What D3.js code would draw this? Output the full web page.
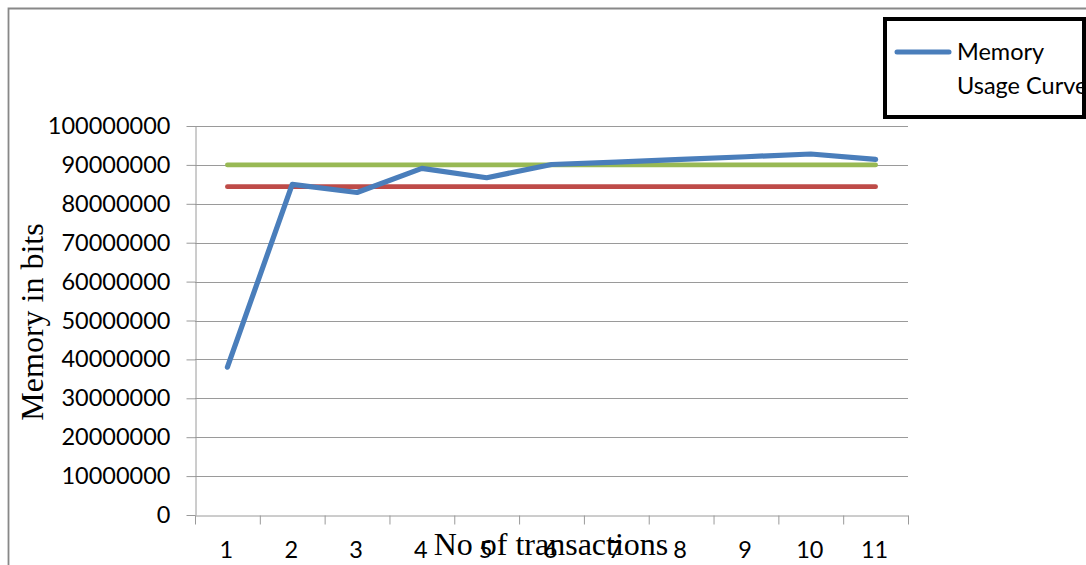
<!DOCTYPE html>
<html>
<head>
<meta charset="utf-8">
<script src="https://cdn.jsdelivr.net/npm/d3@7"></script>
<style>
  html, body { margin: 0; padding: 0; background: #fff; }
  svg { display: block; }
</style>
</head>
<body>
<svg id="chart" width="1086" height="565"></svg>
<script>
// ---- data ----
const categories = ["1","2","3","4","5","6","7","8","9","10","11"];
const memoryUsage = [38000000, 85000000, 82900000, 89100000, 86700000, 90100000, 90700000, 91400000, 92100000, 92800000, 91400000];
const upperLimit = [90000000, 90000000, 90000000, 90000000, 90000000, 90000000, 90000000, 90000000, 90000000, 90000000, 90000000];
const lowerLimit = [84400000, 84400000, 84400000, 84400000, 84400000, 84400000, 84400000, 84400000, 84400000, 84400000, 84400000];
const yTicks = [0, 10000000, 20000000, 30000000, 40000000, 50000000, 60000000, 70000000, 80000000, 90000000, 100000000];
const legendLabels = ["Memory", "Usage Curve"];

const svg = d3.select("#chart");
const W = 1086, H = 565;
const plot = { left: 195, right: 908, top: 126, bottom: 515 };

// outer frame
svg.append("path")
  .attr("d", `M8.5,${H} L8.5,8.5 L${W},8.5`)
  .attr("fill", "none").attr("stroke", "#888").attr("stroke-width", 1.8);

const x = d3.scaleBand().domain(categories).range([plot.left, plot.right]).padding(0);
const xb = d3.scaleLinear().domain([0, categories.length]).range([plot.left, plot.right]);
const y = d3.scaleLinear().domain([0, 100000000]).range([plot.bottom, plot.top]);

// gridlines
svg.append("g").selectAll("line").data(yTicks.slice(1)).join("line")
  .attr("x1", plot.left).attr("x2", plot.right)
  .attr("y1", d => Math.round(y(d)) + 0.5).attr("y2", d => Math.round(y(d)) + 0.5)
  .attr("stroke", "#9a9a9a").attr("stroke-width", 1);

// y axis
const yAxis = svg.append("g").attr("transform", `translate(${plot.left + 0.5},0)`)
  .call(d3.axisLeft(y).tickValues(yTicks).tickFormat(d3.format("d")).tickSizeInner(9).tickSizeOuter(0).tickPadding(16));
yAxis.select(".domain").attr("stroke", "#9a9a9a");
yAxis.selectAll(".tick line").attr("stroke", "#9a9a9a");
yAxis.selectAll(".tick text").attr("font-family", "Lato, sans-serif").attr("font-size", 23.5).attr("fill", "#000");

// x axis (boundary ticks)
const xAxis = svg.append("g").attr("transform", `translate(0,${Math.round(plot.bottom) + 0.5})`)
  .call(d3.axisBottom(xb).tickValues(d3.range(0, categories.length + 1)).tickFormat("").tickSizeInner(9).tickSizeOuter(0));
xAxis.select(".domain").attr("stroke", "#9a9a9a");
xAxis.selectAll(".tick line").attr("stroke", "#9a9a9a");

// x labels
svg.append("g").selectAll("text").data(categories).join("text")
  .attr("x", d => x(d) + x.bandwidth() / 2 - 1)
  .attr("y", 558)
  .attr("text-anchor", "middle")
  .attr("font-family", "Lato, sans-serif").attr("font-size", 23.5).attr("fill", "#000")
  .text(d => d);

// lines
const line = d3.line().x((d, i) => x(categories[i]) + x.bandwidth() / 2).y(d => y(d));
svg.append("path").datum(upperLimit).attr("d", line)
  .attr("fill", "none").attr("stroke", "#98B954").attr("stroke-width", 4.8).attr("stroke-linecap", "round");
svg.append("path").datum(lowerLimit).attr("d", line)
  .attr("fill", "none").attr("stroke", "#BE4B48").attr("stroke-width", 4.8).attr("stroke-linecap", "round");
svg.append("path").datum(memoryUsage).attr("d", line)
  .attr("fill", "none").attr("stroke", "#4A7EBB").attr("stroke-width", 5.2).attr("stroke-linecap", "round").attr("stroke-linejoin", "round");

// axis titles
svg.append("text")
  .attr("transform", "translate(43,322) rotate(-90)")
  .attr("text-anchor", "middle")
  .attr("font-family", "'Liberation Serif', 'Times New Roman', serif").attr("font-size", 32).attr("fill", "#000")
  .text("Memory in bits");
svg.append("text")
  .attr("x", 551).attr("y", 555)
  .attr("text-anchor", "middle")
  .attr("font-family", "'Liberation Serif', 'Times New Roman', serif").attr("font-size", 32).attr("fill", "#000")
  .text("No of transactions");

// legend
const lg = svg.append("g");
lg.append("rect").attr("x", 885).attr("y", 19).attr("width", 199).attr("height", 98)
  .attr("fill", "#fff").attr("stroke", "#000").attr("stroke-width", 4);
lg.append("line").attr("x1", 897).attr("x2", 949).attr("y1", 52).attr("y2", 52)
  .attr("stroke", "#4A7EBB").attr("stroke-width", 5).attr("stroke-linecap", "round");
lg.selectAll("text").data(legendLabels).join("text")
  .attr("x", 957).attr("y", (d, i) => 60 + i * 34)
  .attr("font-family", "Lato, sans-serif").attr("font-size", 23.5).attr("fill", "#000")
  .text(d => d);
</script>
</body>
</html>
